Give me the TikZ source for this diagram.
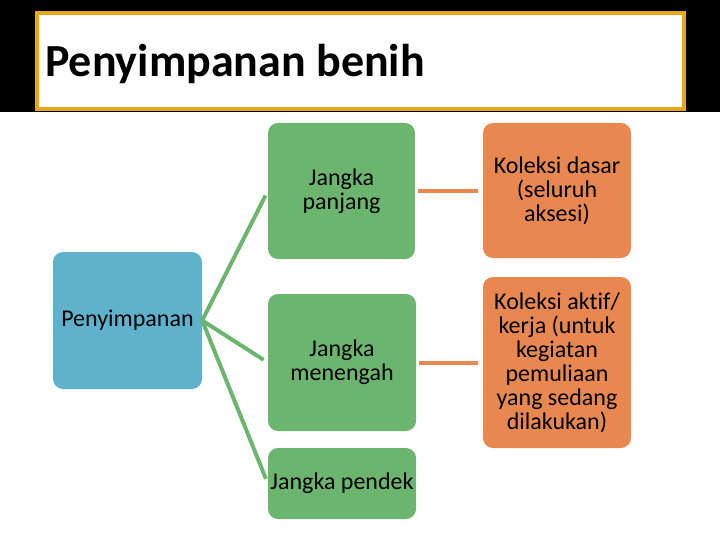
\documentclass[tikz,border=0pt]{standalone}
\usepackage{fontspec}
\setmainfont{Carlito}[Ligatures={NoCommon}]
\definecolor{gboxc}{RGB}{107,181,110}
\definecolor{oboxc}{RGB}{232,136,80}
\definecolor{bboxc}{RGB}{96,178,204}
\definecolor{goldc}{RGB}{230,168,22}
\tikzset{
  box/.style={rounded corners=10pt, inner sep=0pt, align=center,
    font=\fontsize{24}{24}\selectfont, text=black},
  gbox/.style={box, fill=gboxc},
  obox/.style={box, fill=oboxc},
  bbox/.style={box, fill=bboxc},
  gline/.style={draw=gboxc, line width=4pt},
  oline/.style={draw=oboxc, line width=4pt},
}
\begin{document}
\begin{tikzpicture}[x=1pt,y=-1pt]
\useasboundingbox (0,0) rectangle (720,540);
\fill[black] (0,0) rectangle (720,112);
\node[draw=goldc, line width=4pt, fill=white, minimum width=647pt, minimum height=96pt, inner sep=0pt] (titlebox) at (360.5,61) {};
\node[anchor=base west, inner sep=0pt, font=\bfseries\fontsize{46}{50}\selectfont] (title) at (45,77) {Penyimpanan benih};

\node[bbox, minimum width=149pt, minimum height=137pt] (root) at (127.5,320.5) {Penyimpanan};
\node[gbox, minimum width=147pt, minimum height=136pt] (g1) at (341.5,191) {Jangka\\panjang};
\node[gbox, minimum width=148pt, minimum height=137pt] (g2) at (342,362.5) {Jangka\\menengah};
\node[gbox, minimum width=148pt, minimum height=71pt] (g3) at (342,483.5) {Jangka pendek};
\node[obox, minimum width=148pt, minimum height=135pt] (o1) at (557,190.5) {Koleksi dasar\\(seluruh\\aksesi)};
\node[obox, minimum width=148pt, minimum height=171pt] (o2) at (557,362.5) {Koleksi aktif/\\kerja (untuk\\kegiatan\\pemuliaan\\yang sedang\\dilakukan)};

\draw[gline, shorten >=5pt] (root.east) -- (g1.west);
\draw[gline, shorten >=5pt] (root.east) -- (g2.west);
\draw[gline, shorten >=5pt] (root.east) -- (g3.west);
\draw[oline, shorten <=3pt, shorten >=5pt] (g1.east) -- (g1.east -| o1.west);
\draw[oline, shorten <=3pt, shorten >=5pt] (g2.east) -- (g2.east -| o2.west);
\end{tikzpicture}
\end{document}
